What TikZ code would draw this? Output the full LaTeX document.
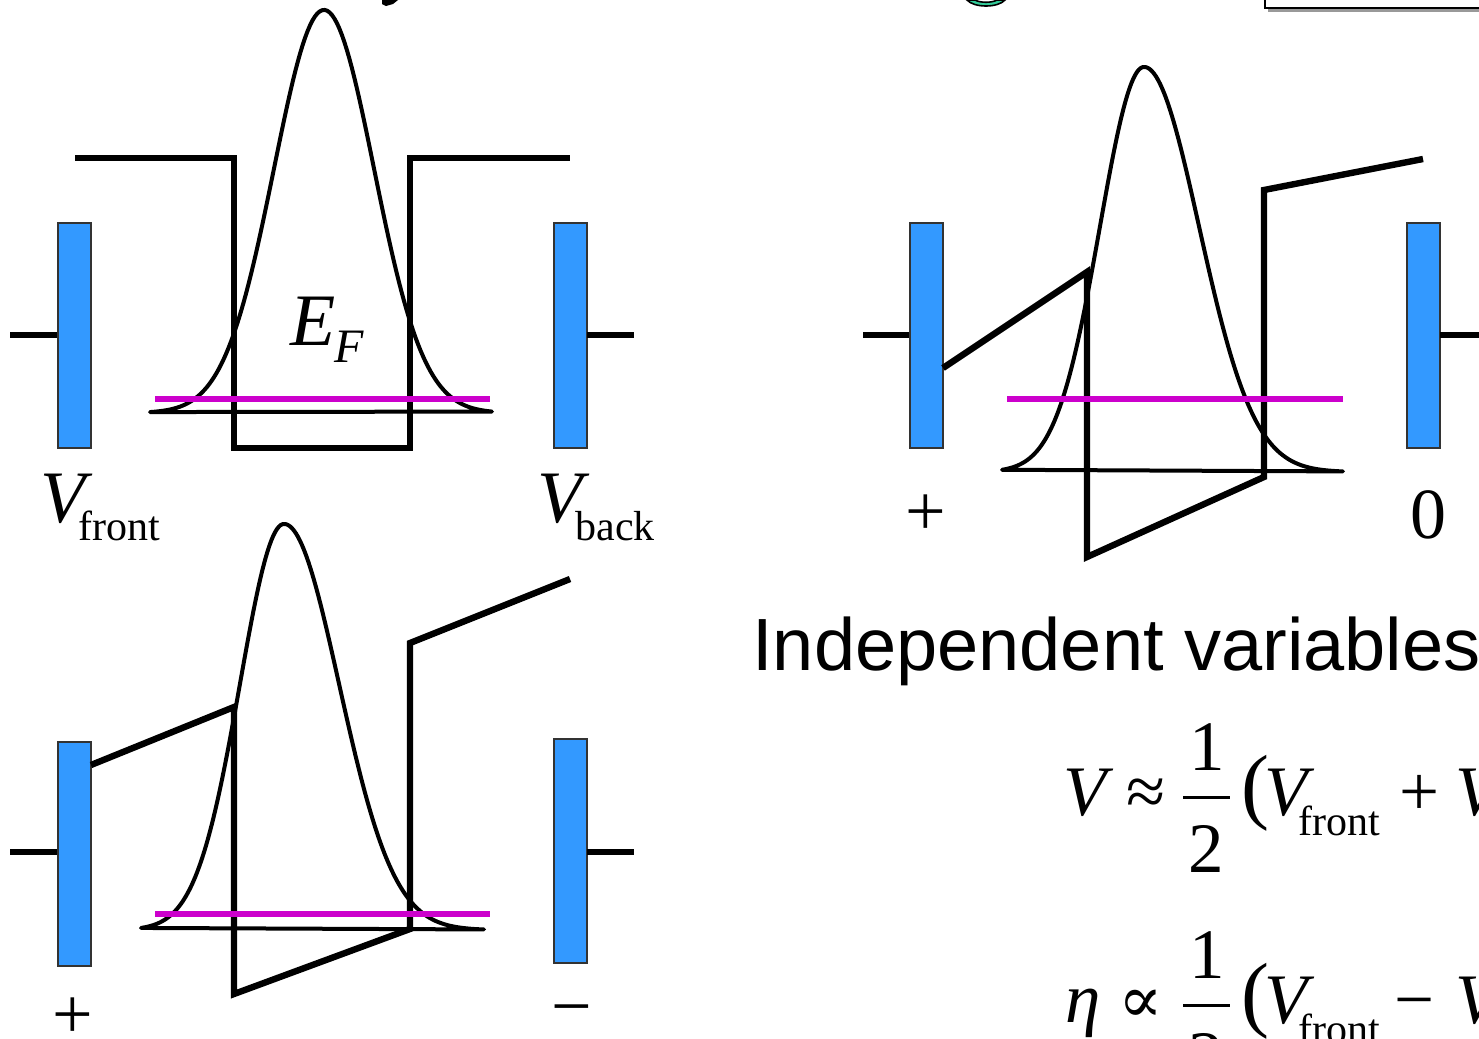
\documentclass[tikz,border=0pt]{standalone}
\usepackage{fontspec}
\setmainfont{Liberation Serif}
\newfontfamily\arialf{Liberation Sans}
\newfontfamily\dejaserif{DejaVu Serif}
\definecolor{elec}{HTML}{3399FF}
\definecolor{fermi}{HTML}{CC00CC}
\definecolor{titlegreen}{HTML}{33CC99}
\begin{document}
\begin{tikzpicture}[x=0.5pt,y=-0.5pt,
  electrode/.style={fill=elec,draw=black!80,line width=0.8pt},
  lead/.style={line width=3.3pt},
  pot/.style={line width=3.2pt,line join=miter},
  wave/.style={line width=2pt,line join=round},
  efermi/.style={draw=fermi,line width=3pt},
  big/.style={inner sep=0pt,anchor=base west,font=\fontsize{37}{44}\selectfont},
  eqbig/.style={inner sep=0pt,anchor=base west,font=\fontsize{35.5}{42}\selectfont},
  sub/.style={inner sep=0pt,anchor=base west,font=\fontsize{21}{26}\selectfont},
  eqsub/.style={inner sep=0pt,anchor=base west,font=\fontsize{21}{26}\selectfont},
  sign/.style={inner sep=0pt,anchor=base,font=\fontsize{36}{42}\selectfont},
]
\useasboundingbox (0,0) rectangle (1479,1039);
\clip (0,0) rectangle (1479,1039);

% title remnants and box
\fill (382,0) -- (398,0) -- (393,4) -- (386,6) -- (382,4) -- cycle;
\filldraw[fill=titlegreen,draw=black,line width=0.8pt] (967,0) .. controls (974,8) and (998,8) .. (1005,0)
  -- (997,0) .. controls (992,3) and (980,3) .. (975,0) -- cycle;
\fill[black!40] (1268,8) rectangle (1479,12);
\draw[line width=1pt,fill=white] (1265,-10) rectangle (1490,8);

% ---------- panel 1 ----------
\draw[lead] (10,335) -- (58,335);
\draw[electrode] (58,223) rectangle (91,448);
\draw[electrode] (554,223) rectangle (587,448);
\draw[lead] (587,335) -- (634,335);
\draw[pot] (75,158) -- (234,158) -- (234,448) -- (410,448) -- (410,158) -- (570,158);
\draw[wave] plot[domain=150:492,samples=140] (\x,{413-403*exp(-0.5*((\x-324)/50)^2)}) -- cycle;
\draw[efermi] (155,399) -- (490,399);
\node[big] (ef) at (290,345) {\itshape E};
\node[sub,font=\fontsize{24}{28}\selectfont] (efs) at (334,362) {\itshape F};
\node[big] (vf) at (40,522) {\itshape V};
\node[sub] (vfs) at (78,540) {front};
\node[big] (vb) at (537,522) {\itshape V};
\node[sub] (vbs) at (575,540) {back};

% ---------- panel 2 ----------
\draw[lead] (863,335) -- (910,335);
\draw[electrode] (910,223) rectangle (943,448);
\draw[electrode] (1407,223) rectangle (1440,448);
\draw[lead] (1440,335) -- (1495,335);
\draw[pot] (943,368) -- (1087,272) -- (1087,557) -- (1264,477) -- (1264,190) -- (1423,159);
\draw[wave] plot[domain=1002:1144,samples=80] (\x,{472-405*exp(-0.5*((\x-1144)/44)^2)})
  -- plot[domain=1144:1343,samples=100] (\x,{472-405*exp(-0.5*((\x-1144)/55)^2)}) -- cycle;
\draw[efermi] (1007,399) -- (1343,399);
\node[sign] (p2l) at (926,535) {+};
\node[sign] (p2r) at (1428,538) {0};

% ---------- panel 3 ----------
\draw[lead] (10,852) -- (58,852);
\draw[electrode] (58,742) rectangle (91,966);
\draw[electrode] (554,739) rectangle (587,963);
\draw[lead] (587,852) -- (634,852);
\draw[pot] (91,765) -- (234,707) -- (234,994) -- (410,929) -- (410,643) -- (570,579);
\draw[wave] plot[domain=141:284,samples=80] (\x,{930-406*exp(-0.5*((\x-284)/44)^2)})
  -- plot[domain=284:484,samples=100] (\x,{930-406*exp(-0.5*((\x-284)/55)^2)}) -- cycle;
\draw[efermi] (155,914) -- (490,914);
\node[sign] (p3l) at (73,1038) {+};
\node[sign] (p3r) at (572,1030) {−};

% ---------- text ----------
\node[inner sep=0pt,anchor=base west,font=\arialf\fontsize{37}{44}\selectfont] (iv) at (752,670) {Independent variables};

% equation 1
\node[eqbig] (e1v) at (1063,815) {\itshape V};
\node[sign,font=\fontsize{35.5}{42}\selectfont] (e1ap) at (1146,815) {≈};
\node[sign,font=\fontsize{35.5}{42}\selectfont] (e1n) at (1207,770) {1};
\node[sign,font=\fontsize{35.5}{42}\selectfont] (e1d) at (1206,872) {2};
\draw[line width=1.5pt] (1183,797) -- (1230,797);
\node[inner sep=0pt,anchor=base west,font=\fontsize{42}{48}\selectfont] (e1p) at (1241,813) {(};
\node[eqbig] (e1v2) at (1264,815) {\itshape V};
\node[eqsub] (e1s) at (1298,835) {front};
\node[sign,font=\fontsize{35.5}{42}\selectfont] (e1pl) at (1420,815) {+};
\node[eqbig] (e1v3) at (1455,815) {\itshape V};

% equation 2
\node[eqbig] (e2eta) at (1065,1022) {\itshape η};
\node[sign,font=\dejaserif\fontsize{33}{40}\selectfont] (e2pr) at (1141,1022) {∝};
\node[sign,font=\fontsize{35.5}{42}\selectfont] (e2n) at (1207,978) {1};
\node[sign,font=\fontsize{35.5}{42}\selectfont] (e2d) at (1206,1080) {2};
\draw[line width=1.5pt] (1183,1005) -- (1230,1005);
\node[inner sep=0pt,anchor=base west,font=\fontsize{42}{48}\selectfont] (e2p) at (1241,1021) {(};
\node[eqbig] (e2v2) at (1264,1023) {\itshape V};
\node[eqsub] (e2s) at (1298,1043) {front};
\node[sign,font=\fontsize{35.5}{42}\selectfont] (e2mi) at (1415,1023) {−};
\node[eqbig] (e2v3) at (1455,1023) {\itshape V};
\end{tikzpicture}
\end{document}
